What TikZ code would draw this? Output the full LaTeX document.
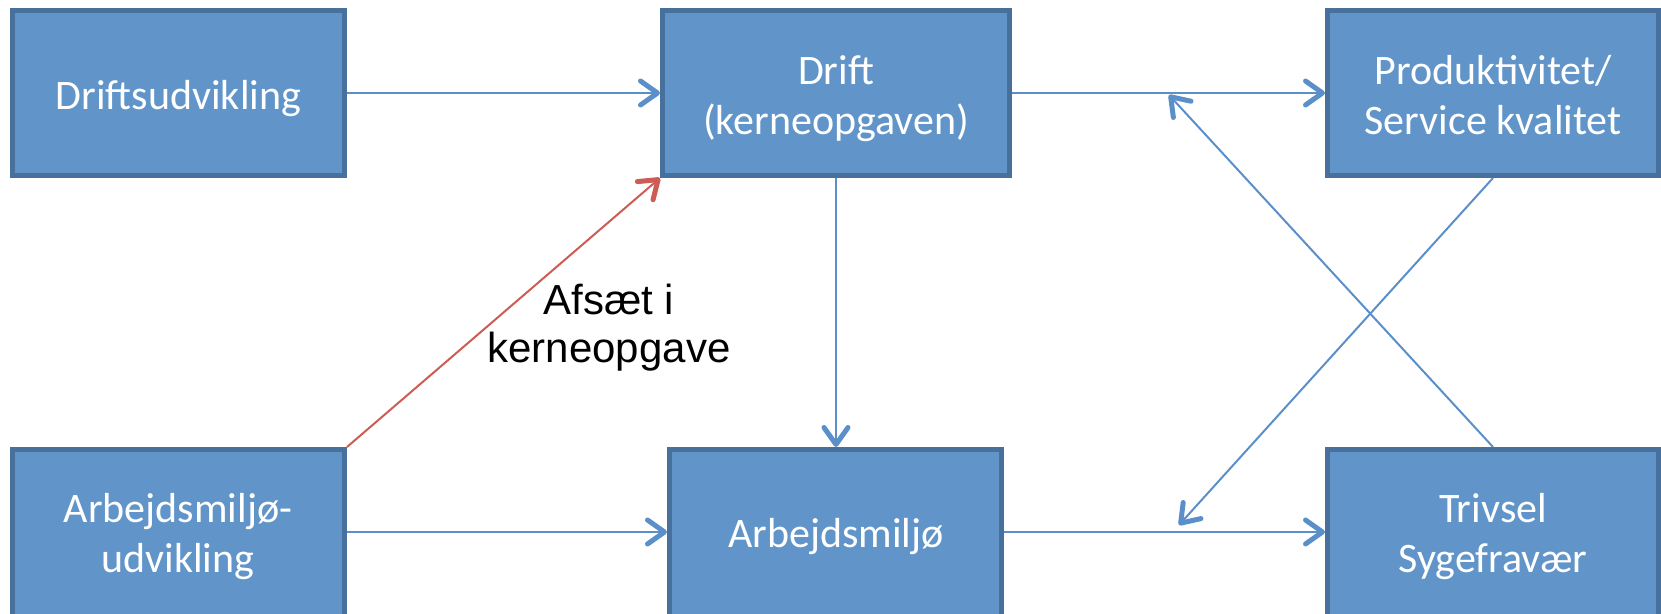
\documentclass[tikz,border=0pt]{standalone}
\usepackage{fontspec}
\setmainfont{Carlito}
\newfontfamily\labelfont{Liberation Sans}
\usetikzlibrary{arrows.meta}

\definecolor{boxfill}{HTML}{6195C9}
\definecolor{boxedge}{HTML}{47709C}
\definecolor{linkblue}{HTML}{5B8FC9}
\definecolor{linkred}{HTML}{CD5C54}

\begin{document}
\begin{tikzpicture}[x=0.5pt, y=-0.5pt,
  box/.style={draw=boxedge, fill=boxfill, line width=2.5pt, inner sep=0pt,
    minimum height=82.5pt},
  lowbox/.style={box, minimum height=87.5pt},
  boxtext/.style={text=white, font=\fontsize{21}{25}\selectfont, align=center,
    anchor=base, inner sep=0pt},
  labeltext/.style={text=black, font=\labelfont\fontsize{21}{24}\selectfont,
    align=center, anchor=base, inner sep=0pt},
  barb/.tip={Straight Barb[length=8.5pt, width=12pt, line width=2.5pt, round]},
  link/.style={draw=linkblue, line width=1pt, -barb},
  redlink/.style={draw=linkred, line width=1pt, -barb}]

\useasboundingbox (0,0) rectangle (1661,614);

% boxes, top row
\node[box, minimum width=166pt]   (b1) at (178.5,93) {};
\node[box, minimum width=173.5pt] (b2) at (836,93) {};
\node[box, minimum width=165.5pt] (b3) at (1493,93) {};
% boxes, bottom row (they run past the lower edge)
\node[lowbox, minimum width=166pt]   (b4) at (178.5,537) {};
\node[lowbox, minimum width=166pt]   (b5) at (835.5,537) {};
\node[lowbox, minimum width=165.5pt] (b6) at (1493,537) {};

% box texts (base anchor = baseline of the last line)
\node[boxtext] (t1) at (178.5,110) {Driftsudvikling};
\node[boxtext] (t2) at (836,135) {Drift\\(kerneopgaven)};
\node[boxtext] (t3) at (1493,135) {Produktivitet/\\Service kvalitet};
\node[boxtext] (t4) at (178,573) {Arbejdsmiljø-\\udvikling};
\node[boxtext] (t5) at (836,548) {Arbejdsmiljø};
\node[boxtext] (t6) at (1493,573) {Trivsel\\Sygefravær};

% label beside the red arrow
\node[labeltext] (lab) at (609,363) {Afsæt i\\kerneopgave};

% connectors
\coordinate (row2) at (0,532);
\coordinate (tipA) at (1179,525);
\coordinate (tipB) at (1169,95);

\draw[link] (b1) -- (b2);
\draw[link] (b2) -- (b3);
\draw[link] (b2.south) -- (b2.south |- b5.north);
\draw[link] (b4.east |- row2) -- (b5.west |- row2);
\draw[link] (b5.east |- row2) -- (b6.west |- row2);
\draw[redlink] (b4.north east) -- (b2.south west);
\draw[link] (b3.south) -- (tipA);
\draw[link] (b6.north) -- (tipB);
\end{tikzpicture}
\end{document}
